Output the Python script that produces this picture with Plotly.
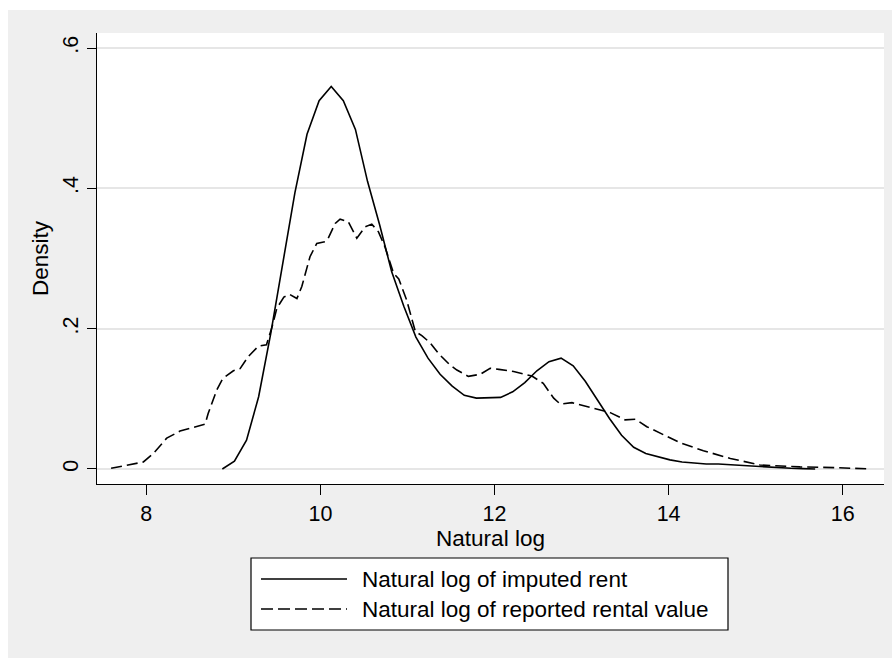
import plotly.graph_objects as go

# ---------------- data ----------------
imputed_x = [8.873, 9.012, 9.151, 9.290, 9.429, 9.568, 9.707, 9.846, 9.985, 10.124,
             10.263, 10.402, 10.541, 10.680, 10.819, 10.958, 11.097, 11.236, 11.375, 11.514,
             11.653, 11.792, 11.931, 12.070, 12.209, 12.348, 12.487, 12.626, 12.765, 12.904,
             13.043, 13.182, 13.321, 13.460, 13.599, 13.738, 13.877, 14.016, 14.155, 14.294,
             14.433, 14.572, 14.711, 14.850, 14.989, 15.128, 15.267, 15.406, 15.545, 15.684]
imputed_y = [0.000, 0.011, 0.041, 0.103, 0.193, 0.294, 0.394, 0.477, 0.525, 0.545,
             0.525, 0.484, 0.410, 0.348, 0.281, 0.232, 0.188, 0.158, 0.135, 0.118,
             0.105, 0.101, 0.101, 0.102, 0.110, 0.123, 0.140, 0.153, 0.158, 0.147,
             0.125, 0.098, 0.072, 0.048, 0.031, 0.022, 0.017, 0.013, 0.010, 0.008,
             0.007, 0.007, 0.006, 0.004, 0.003, 0.002, 0.001, 0.001, 0.0005, 0.000]

reported_x = [7.595, 7.966, 8.080, 8.234, 8.387, 8.550, 8.675, 8.710, 8.810, 8.878,
              9.000, 9.077, 9.170, 9.287, 9.380, 9.450, 9.499, 9.580, 9.644, 9.730,
              9.786, 9.880, 9.958, 10.054, 10.090, 10.170, 10.226, 10.320, 10.418, 10.514,
              10.590, 10.667, 10.740, 10.840, 10.900, 10.990, 11.090, 11.165, 11.260, 11.360,
              11.490, 11.568, 11.700, 11.836, 11.950, 12.050, 12.220, 12.430, 12.560, 12.680,
              12.755, 12.890, 13.140, 13.330, 13.500, 13.620, 13.750, 13.940, 14.130, 14.400,
              14.710, 15.050, 15.510, 15.900, 16.320]
reported_y = [0.001, 0.010, 0.022, 0.044, 0.054, 0.060, 0.064, 0.079, 0.113, 0.129,
              0.140, 0.143, 0.160, 0.175, 0.177, 0.205, 0.229, 0.245, 0.249, 0.243,
              0.260, 0.3025, 0.3216, 0.324, 0.329, 0.350, 0.356, 0.3525, 0.329, 0.345,
              0.349, 0.338, 0.317, 0.279, 0.271, 0.241, 0.196, 0.190, 0.180, 0.164,
              0.148, 0.141, 0.132, 0.135, 0.1435, 0.142, 0.139, 0.1325, 0.122, 0.101,
              0.0926, 0.0945, 0.0865, 0.0803, 0.070, 0.0708, 0.0603, 0.0485, 0.0375, 0.026,
              0.015, 0.0057, 0.003, 0.002, 0.000]

x_ticks = [8, 10, 12, 14, 16]
y_ticks = [0, 0.2, 0.4, 0.6]
y_tick_labels = ["0", ".2", ".4", ".6"]
series_names = ["Natural log of imputed rent", "Natural log of reported rental value"]

# ---------------- layout geometry ----------------
W, H = 892, 658
L, R, T, B = 97, 8, 33, 174
PW, PH = W - L - R, H - T - B
FONT = "Arial, Liberation Sans, sans-serif"
BG = "#EFEFEF"


def px(xp):
    return (xp - L) / PW


def py(yp):
    return (T + PH - yp) / PH


fig = go.Figure()
fig.add_trace(go.Scatter(x=imputed_x, y=imputed_y, mode="lines", name=series_names[0],
                         line=dict(color="black", width=1.6), showlegend=False))
fig.add_trace(go.Scatter(x=reported_x, y=reported_y, mode="lines", name=series_names[1],
                         line=dict(color="black", width=1.6, dash="11px,5px"), showlegend=False))

shapes = []
# white border strips (top & left) of the outer frame
shapes.append(dict(type="rect", xref="paper", yref="paper", x0=px(0), x1=px(8), y0=py(H), y1=py(0),
                   fillcolor="white", line=dict(width=0), layer="below"))
shapes.append(dict(type="rect", xref="paper", yref="paper", x0=px(0), x1=px(W), y0=py(10), y1=py(0),
                   fillcolor="white", line=dict(width=0), layer="below"))
# legend box
shapes.append(dict(type="rect", xref="paper", yref="paper", x0=px(251), x1=px(728), y0=py(630), y1=py(558),
                   fillcolor="white", line=dict(color="black", width=1.2)))
shapes.append(dict(type="line", xref="paper", yref="paper", x0=px(261), x1=px(347), y0=py(579), y1=py(579),
                   line=dict(color="black", width=1.6)))
shapes.append(dict(type="line", xref="paper", yref="paper", x0=px(261), x1=px(347), y0=py(609), y1=py(609),
                   line=dict(color="black", width=1.6, dash="12px,5px")))

annotations = [
    dict(text=series_names[0], xref="paper", yref="paper", x=px(360), y=py(579),
         xanchor="left", yanchor="middle", showarrow=False, font=dict(family=FONT, size=22.5, color="black")),
    dict(text=series_names[1], xref="paper", yref="paper", x=px(360), y=py(609),
         xanchor="left", yanchor="middle", showarrow=False, font=dict(family=FONT, size=22.5, color="black")),
]

fig.update_layout(
    width=W, height=H,
    margin=dict(l=L, r=R, t=T, b=B, pad=0),
    paper_bgcolor=BG, plot_bgcolor="white",
    font=dict(family=FONT, size=21, color="black"),
    shapes=shapes, annotations=annotations,
    showlegend=False,
)
fig.update_xaxes(
    range=[7.433, 16.475], tickmode="array", tickvals=x_ticks,
    ticks="outside", ticklen=10, tickwidth=1.3, tickcolor="black",
    showline=True, linecolor="black", linewidth=1.3, mirror=False,
    showgrid=False, zeroline=False,
    tickfont=dict(family=FONT, size=21.5),
    title=dict(text="Natural log", font=dict(family=FONT, size=22.5), standoff=2),
)
fig.update_yaxes(
    range=[-0.0214, 0.6214], tickmode="array", tickvals=y_ticks, ticktext=y_tick_labels,
    tickangle=-90,
    ticks="outside", ticklen=9, tickwidth=1.3, tickcolor="black",
    showline=True, linecolor="black", linewidth=1.3, mirror=False,
    showgrid=True, gridcolor="#E6E6E6", gridwidth=2, zeroline=False,
    tickfont=dict(family=FONT, size=21.5),
    title=dict(text="Density", font=dict(family=FONT, size=22.5), standoff=4),
)

fig.write_html("out.html")
